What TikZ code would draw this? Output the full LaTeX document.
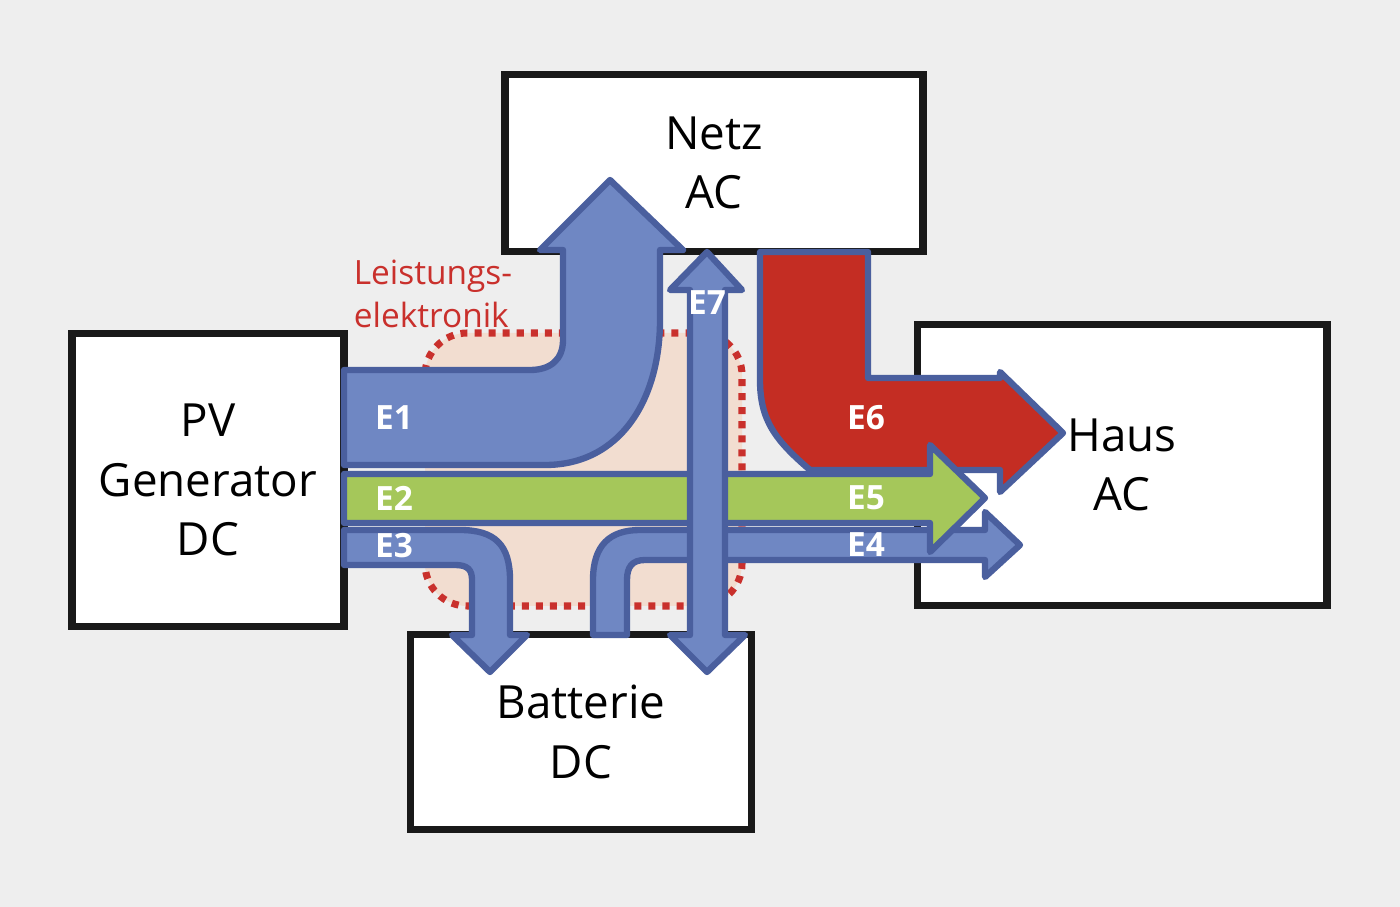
\documentclass[tikz,border=0pt]{standalone}
\usepackage{fontspec}
\setmainfont{Open Sans}
\definecolor{bg}{HTML}{EEEEEE}
\definecolor{flowblue}{HTML}{6F87C3}
\definecolor{edgeblue}{HTML}{4A5F9E}
\definecolor{flowgreen}{HTML}{A5C75A}
\definecolor{flowred}{HTML}{C42D23}
\definecolor{zonefill}{HTML}{F2DDD0}
\definecolor{zonered}{HTML}{C9302C}
\tikzset{
  box/.style={draw=black!90,line width=2.2pt,fill=white,align=center,
    font=\fontsize{13}{17}\selectfont,inner sep=0pt},
  flow/.style={draw=edgeblue,line width=1.8pt,line join=round},
  tag/.style={text=white,font=\bfseries\fontsize{9.5}{11}\selectfont},
}
\begin{document}
\begin{tikzpicture}[x=0.01cm,y=-0.01cm]
\fill[bg] (0,0) rectangle (1400,907);
\node[box,minimum width=4.18cm,minimum height=1.77cm] (netz) at (714,163) {Netz\\AC};
\node[box,minimum width=2.72cm,minimum height=2.93cm] (pv) at (208,480) {PV\\Generator\\DC};
\node[box,minimum width=4.09cm,minimum height=2.81cm] (haus) at (1122,465) {Haus\\AC};
\node[box,minimum width=3.41cm,minimum height=1.95cm] (batt) at (581,732) {Batterie\\DC};
% Leistungselektronik
\draw[zonered,fill=zonefill,line width=2pt,dotted,rounded corners=12pt]
  (425,333) rectangle (742,606);
\node[text=zonered,align=left,font=\fontsize{9.5}{12}\selectfont] (le) at (433,294) {Leistungs-\\elektronik};
% E6
\draw[flow,fill=flowred] (760,252) -- (868,252) -- (868,378) -- (1000,378) -- (1000,372)
  -- (1063,433) -- (1000,492) -- (1000,470) -- (810,470)
  .. controls (775,440) and (760,420) .. (760,380) -- cycle;
% E1
\draw[flow,fill=flowblue] (344,465) -- (545,465) .. controls (620,465) and (660,400) .. (660,320)
  -- (660,250) -- (683,250) -- (610,180) -- (540,250) -- (563,250) -- (563,340)
  .. controls (563,360) and (550,370) .. (530,370) -- (344,370) -- cycle;
% E3
\draw[flow,fill=flowblue] (344,530) -- (460,530) .. controls (495,530) and (510,545) .. (510,580)
  -- (510,635) -- (527,635) -- (490,672) -- (452,635) -- (472,635) -- (472,580)
  .. controls (472,570) and (468,565) .. (455,565) -- (344,565) -- cycle;
% E4
\draw[flow,fill=flowblue] (593,635) -- (593,580) .. controls (593,545) and (610,530) .. (640,530)
  -- (985,530) -- (985,512) -- (1020,545) -- (985,577) -- (985,560) -- (645,560)
  .. controls (632,560) and (627,567) .. (627,580) -- (627,635) -- cycle;
% E2 / E5
\draw[flow,fill=flowgreen] (344,474) -- (930,474) -- (930,445) -- (985,498) -- (930,552)
  -- (930,523) -- (344,523) -- cycle;
% E7
\draw[flow,fill=flowblue] (690,290) -- (670,290) -- (707,252) -- (742,290) -- (725,290)
  -- (725,635) -- (745,635) -- (707,672) -- (670,635) -- (690,635) -- cycle;
\foreach \n/\x/\l in{
e1/{(394,418)}/E1, e2/{(394,498)}/E2, e3/{(394,546)}/E3, e4/{(866,545)}/E4,
e5/{(866,498)}/E5, e6/{(866,418)}/E6, e7/{(707,303)}/E7
}
{
  \node[tag] (\n) at \x {\l};
}
\end{tikzpicture}
\end{document}
